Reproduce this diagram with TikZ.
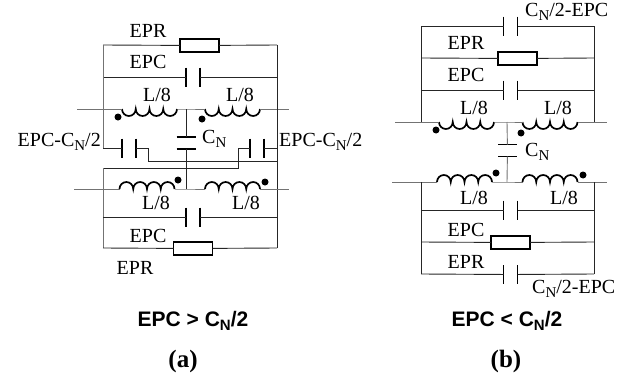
\documentclass[tikz,border=0pt]{standalone}
\usepackage{fontspec}
\setmainfont{Liberation Serif}
\newfontfamily\titlefont{Liberation Sans}
\newcommand{\cnsub}{C\raisebox{-4pt}{\fontsize{15}{15}\selectfont N}}
\newcommand{\cntitle}{C\raisebox{-4pt}{\fontsize{15}{15}\selectfont N}}
\tikzset{
    wire/.style={line width=0.9pt, black!85},
    greywire/.style={line width=0.9pt, black!55},
    lab/.style={inner sep=0pt, font=\fontsize{20}{20}\selectfont, text=black},
    headlab/.style={inner sep=0pt, font=\titlefont\bfseries\fontsize{21}{21}\selectfont},
    sublab/.style={inner sep=0pt, font=\bfseries\fontsize{25}{25}\selectfont},
    res/.style={draw, line width=1.6pt, minimum width=39pt, minimum height=13pt, inner sep=0pt, outer sep=0pt},
    dot/.style={circle, fill=black, minimum size=7pt, inner sep=0pt},
    capv/.style={minimum width=14pt, minimum height=19pt, inner sep=0pt, outer sep=0pt,
        append after command={\pgfextra{\draw[line width=1.5pt] (\tikzlastnode.north west) -- (\tikzlastnode.south west)
            (\tikzlastnode.north east) -- (\tikzlastnode.south east);}}},
    caph/.style={minimum width=19pt, minimum height=12pt, inner sep=0pt, outer sep=0pt,
        append after command={\pgfextra{\draw[line width=1.5pt] (\tikzlastnode.north west) -- (\tikzlastnode.north east)
            (\tikzlastnode.south west) -- (\tikzlastnode.south east);}}},
    coildown/.style={minimum width=55pt, minimum height=1pt, inner sep=0pt, outer sep=0pt,
        append after command={\pgfextra{\draw[line width=1.7pt] (\tikzlastnode.west)
            arc[start angle=180, end angle=360, x radius=6.875pt, y radius=7pt]
            arc[start angle=180, end angle=360, x radius=6.875pt, y radius=7pt]
            arc[start angle=180, end angle=360, x radius=6.875pt, y radius=7pt]
            arc[start angle=180, end angle=360, x radius=6.875pt, y radius=7pt];}}},
    coilup/.style={minimum width=55pt, minimum height=1pt, inner sep=0pt, outer sep=0pt,
        append after command={\pgfextra{\draw[line width=1.7pt] (\tikzlastnode.west)
            arc[start angle=180, end angle=0, x radius=6.875pt, y radius=7pt]
            arc[start angle=180, end angle=0, x radius=6.875pt, y radius=7pt]
            arc[start angle=180, end angle=0, x radius=6.875pt, y radius=7pt]
            arc[start angle=180, end angle=0, x radius=6.875pt, y radius=7pt];}}},
}
\begin{document}
\begin{tikzpicture}[x=1pt, y=-1pt]
    \useasboundingbox (0, 0) rectangle (628, 380);

    % (a)
    \coordinate (atl) at (103, 45);
    \coordinate (atr) at (277, 45);
    \coordinate (acl) at (103, 77);
    \coordinate (acr) at (277, 77);
    \coordinate (awl) at (77, 109);
    \coordinate (awr) at (289, 109);
    \coordinate (amid) at (186, 109);
    \coordinate (acrossl) at (103, 148);
    \coordinate (acrossr) at (277, 148);
    \coordinate (abendl) at (148, 148);
    \coordinate (abendr) at (238, 148);
    \coordinate (arunl) at (277, 161);
    \coordinate (arunr) at (103, 168);
    \coordinate (ablw) at (74, 189);
    \coordinate (abrw) at (289, 189);
    \coordinate (abmid) at (186, 189);
    \coordinate (accl) at (103, 217);
    \coordinate (accr) at (277, 217);
    \coordinate (abl) at (103, 248);
    \coordinate (abr) at (277, 248);

    \node[res] (aeprtop) at (199.5, 45.5) {};
    \node[capv] (aepctop) at (193, 77) {};
    \node[coildown] (acoil1) at (149.5, 109) {};
    \node[coildown] (acoil2) at (232.5, 109) {};
    \node[caph] (acn) at (186, 143) {};
    \node[capv] (acapl) at (129, 148) {};
    \node[capv] (acapr) at (257, 148) {};
    \node[coilup] (acoil3) at (147, 189) {};
    \node[coilup] (acoil4) at (232.5, 189) {};
    \node[capv] (aepcbot) at (193, 217) {};
    \node[res] (aeprbot) at (193, 248.5) {};

    \node[dot] (adot1) at (118, 117) {};
    \node[dot] (adot2) at (202, 119) {};
    \node[dot] (adot3) at (178, 180) {};
    \node[dot] (adot4) at (265, 182) {};

    \draw[wire] (atl) -- (aeprtop) -- (atr);
    \draw[wire] (acl) -- (aepctop) -- (acr);
    \draw[greywire] (awl) -- (acoil1) -- (amid) -- (acoil2) -- (awr);
    \draw[greywire] (atl) -- (acrossl);
    \draw[wire] (atr) -- (abr);
    \draw[wire] (amid) -- (acn) -- (abmid);
    \draw[wire] (acrossl) -- (acapl) -- (abendl) |- (arunl);
    \draw[wire] (acrossr) -- (acapr) -- (abendr) |- (arunr);
    \draw[greywire] (arunr) -- (abl);
    \draw[greywire] (ablw) -- (acoil3) -- (abmid) -- (acoil4) -- (abrw);
    \draw[wire] (accl) -- (aepcbot) -- (accr);
    \draw[wire] (abl) -- (aeprbot) -- (abr);

    \node[lab] (aleprtop) at (148, 31) {EPR};
    \node[lab] (alepctop) at (148, 62) {EPC};
    \node[lab] (alL1) at (157, 95) {L/8};
    \node[lab] (alL2) at (240, 95) {L/8};
    \node[lab, anchor=east] (alcapl) at (101, 142) {EPC-\cnsub/2};
    \node[lab, anchor=west] (alcapr) at (279, 142) {EPC-\cnsub/2};
    \node[lab, anchor=west] (alcn) at (202, 139) {\cnsub};
    \node[lab] (alL3) at (156, 203) {L/8};
    \node[lab] (alL4) at (246, 203) {L/8};
    \node[lab] (alepcbot) at (148, 236) {EPC};
    \node[lab] (aleprbot) at (135, 268) {EPR};
    \node[headlab] (ahead) at (193, 321) {EPC > \cntitle/2};
    \node[sublab] (asub) at (183, 361) {(a)};

    % (b)
    \coordinate (btl) at (421, 26);
    \coordinate (btr) at (594, 26);
    \coordinate (brl) at (421, 58);
    \coordinate (brr) at (594, 58);
    \coordinate (bcl) at (421, 90);
    \coordinate (bcr) at (594, 90);
    \coordinate (bwl) at (395, 122);
    \coordinate (bwr) at (607, 122);
    \coordinate (bjl) at (421, 122);
    \coordinate (bjr) at (594, 122);
    \coordinate (bmid) at (507, 122);
    \coordinate (blwl) at (392, 182);
    \coordinate (blwr) at (607, 182);
    \coordinate (bljl) at (421, 182);
    \coordinate (bljr) at (594, 182);
    \coordinate (blmid) at (507, 182);
    \coordinate (bccl) at (421, 210);
    \coordinate (bccr) at (594, 210);
    \coordinate (bbrl) at (421, 242);
    \coordinate (bbrr) at (594, 242);
    \coordinate (bbl) at (421, 274);
    \coordinate (bbr) at (594, 274);

    \node[capv] (bcaptop) at (510.5, 26) {};
    \node[res] (beprtop) at (517.5, 58.5) {};
    \node[capv] (bepctop) at (510.5, 90) {};
    \node[coildown] (bcoil1) at (466.5, 122) {};
    \node[coildown] (bcoil2) at (550, 122) {};
    \node[caph] (bcn) at (507.5, 150.5) {};
    \node[coilup] (bcoil3) at (464.5, 182) {};
    \node[coilup] (bcoil4) at (550, 182) {};
    \node[capv] (bepcbot) at (510.5, 210) {};
    \node[res] (beprbot) at (510.5, 242.5) {};
    \node[capv] (bcapbot) at (510.5, 274.5) {};

    \node[dot] (bdot1) at (436, 130) {};
    \node[dot] (bdot2) at (521, 133) {};
    \node[dot] (bdot3) at (496, 173) {};
    \node[dot] (bdot4) at (583, 175) {};

    \draw[wire] (btl) -- (bcaptop) -- (btr);
    \draw[wire] (brl) -- (beprtop) -- (brr);
    \draw[wire] (bcl) -- (bepctop) -- (bcr);
    \draw[wire] (btl) -- (bjl);
    \draw[wire] (btr) -- (bjr);
    \draw[greywire] (bwl) -- (bcoil1) -- (bmid) -- (bcoil2) -- (bwr);
    \draw[greywire] (bmid) -- (bcn) -- (blmid);
    \draw[greywire] (blwl) -- (bcoil3) -- (blmid) -- (bcoil4) -- (blwr);
    \draw[wire] (bljl) -- (bbl);
    \draw[wire] (bljr) -- (bbr);
    \draw[wire] (bccl) -- (bepcbot) -- (bccr);
    \draw[wire] (bbrl) -- (beprbot) -- (bbrr);
    \draw[wire] (bbl) -- (bcapbot) -- (bbr);

    \node[lab, anchor=west] (blcaptop) at (525, 12) {\cnsub/2-EPC};
    \node[lab] (bleprtop) at (466, 43) {EPR};
    \node[lab] (blepctop) at (466, 75) {EPC};
    \node[lab] (blL1) at (474, 108) {L/8};
    \node[lab] (blL2) at (558, 108) {L/8};
    \node[lab, anchor=west] (blcn) at (525, 152) {\cnsub};
    \node[lab] (blL3) at (474, 198) {L/8};
    \node[lab] (blL4) at (564, 198) {L/8};
    \node[lab] (blepcbot) at (466, 230) {EPC};
    \node[lab] (bleprbot) at (466, 262) {EPR};
    \node[lab, anchor=west] (blcapbot) at (532, 289) {\cnsub/2-EPC};
    \node[headlab] (bhead) at (507, 321) {EPC < \cntitle/2};
    \node[sublab] (bsub) at (506, 361) {(b)};
\end{tikzpicture}
\end{document}
